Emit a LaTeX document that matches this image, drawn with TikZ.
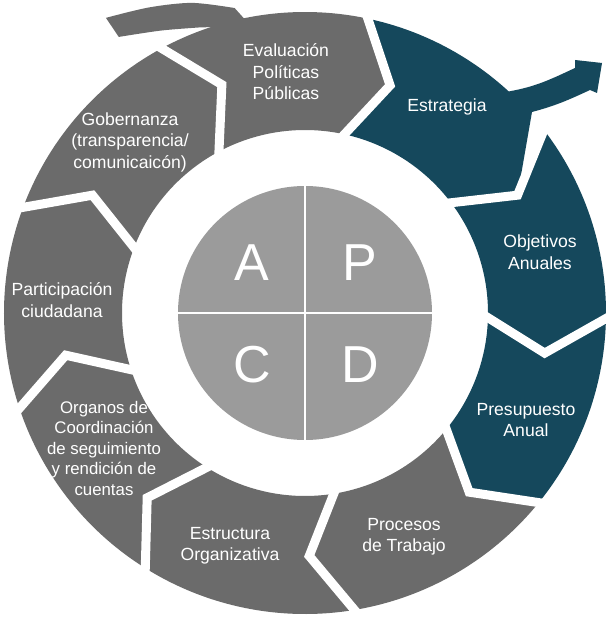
\documentclass[tikz,border=0pt]{standalone}
\usepackage{fontspec}
\setmainfont{Liberation Sans}
\definecolor{slate}{RGB}{107,107,107}
\definecolor{petrol}{RGB}{21,72,92}
\definecolor{hubgray}{RGB}{155,155,155}
\newcommand{\ringseg}[3]{%
  \fill[#1] (#2:183pt) -- ({#2-9}:243pt) -- (#2:301pt)
    arc[start angle=#2, end angle=#3, radius=301pt]
    -- ({#3-9}:243pt) -- (#3:183pt)
    arc[start angle=#3, end angle=#2, radius=183pt] -- cycle;}

\begin{document}
\begin{tikzpicture}[
    x=1pt, y=1pt,
    gap/.style={white, line width=9pt, line join=miter},
    cross/.style={white, line width=2pt},
    lbl/.style={text=white, align=center, font=\fontsize{17.6}{21.5}\selectfont},
    letter/.style={text=white, font=\fontsize{52}{52}\selectfont}
]
\fill[white] (-305,-305) rectangle (303,313);
\useasboundingbox (-305,-305) rectangle (303,313);

% ring of steps, clockwise
\ringseg{slate}{119}{78.5}
\ringseg{petrol}{38}{-0.5}
\ringseg{petrol}{-0.5}{-38.5}
\ringseg{slate}{-38.5}{-80}
\ringseg{slate}{-80}{-121.5}
\ringseg{slate}{-121.5}{-161}
\ringseg{slate}{199}{160}
\ringseg{slate}{160}{119}

% Estrategia with the outgoing arrow
\fill[petrol] (78.5:183pt) -- (69.5:243pt) -- (78.5:301pt)
    arc[start angle=78.5, end angle=47.4, radius=301pt]
    to[out=10,in=205] (270,245) -- (270,253) -- (297,250) -- (292,220) -- (285,223)
    to[out=205,in=15] (227,201) -- (29:243pt) -- (38:183pt)
    arc[start angle=38, end angle=78.5, radius=183pt] -- cycle;

% tail of the cycle
\fill[slate] plot[smooth] coordinates {(124:356pt) (117:343pt) (110:330pt) (103:313pt)}
    -- (101.5:299pt) -- (107:299pt)
    -- plot[smooth] coordinates {(110:304pt) (117:317pt) (124:333pt)} -- cycle;

\foreach \t in {119,78.5,38,-0.5,-38.5,-80,-121.5,-161,160}
  \draw[gap] (\t:178pt) -- ({\t-9}:243pt) -- (\t:306pt);

% PDCA hub
\fill[hubgray] (0,0) circle[radius=127pt];
\draw[cross] (-128,0) -- (128,0);
\draw[cross] (0,-128) -- (0,128);
\node[letter] (A) at (-53,50) {A};
\node[letter] (P) at (55,50) {P};
\node[letter] (C) at (-53,-52) {C};
\node[letter] (D) at (55,-52) {D};

\node[lbl] (eval) at (-19,241) {Evaluación\\Políticas\\Públicas};
\node[lbl] (estr) at (142,206) {Estrategia};
\node[lbl] (obj) at (235,61) {Objetivos\\Anuales};
\node[lbl] (pres) at (221,-107) {Presupuesto\\Anual};
\node[lbl] (proc) at (99,-224) {Procesos\\de Trabajo};
\node[lbl] (estruc) at (-75,-233) {Estructura\\Organizativa};
\node[lbl, font=\fontsize{16.8}{20.5}\selectfont] (org) at (-201,-135)
  {Organos de\\Coordinación\\de seguimiento\\y rendición de\\cuentas};
\node[lbl] (part) at (-243,13) {Participación\\ciudadana};
\node[lbl] (gob) at (-175,171) {Gobernanza\\(transparencia/\\comunicaicón)};
\end{tikzpicture}
\end{document}
